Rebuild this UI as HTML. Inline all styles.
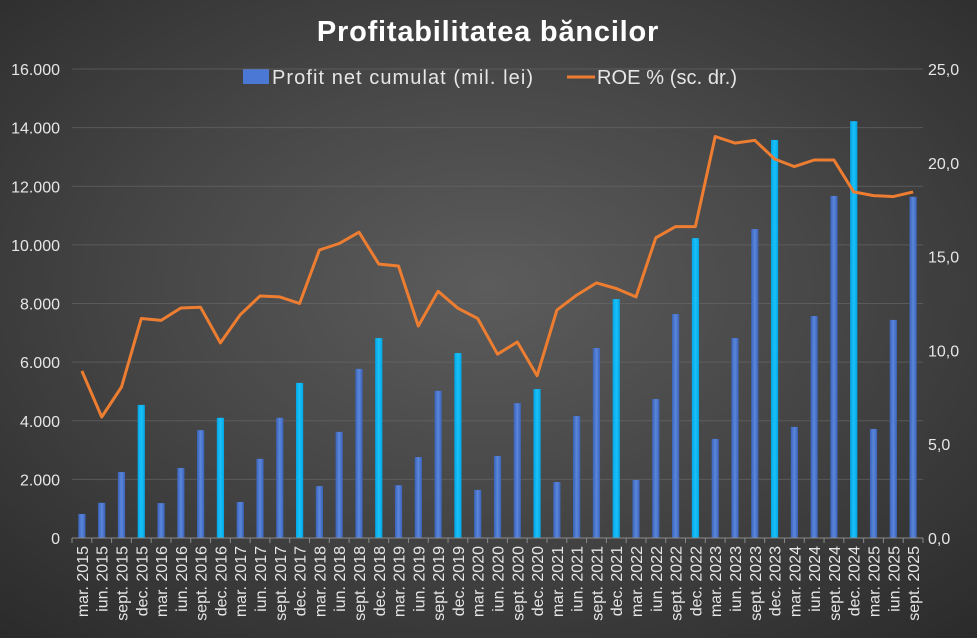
<!DOCTYPE html>
<html><head><meta charset="utf-8"><style>
html,body{margin:0;padding:0;width:977px;height:638px;overflow:hidden}
body{background:radial-gradient(ellipse 75% 75% at 50% 45%,#5c5c5c 0%,#474747 45%,#2a2a2a 100%);font-family:"Liberation Sans",sans-serif}
svg{position:absolute;left:0;top:0}
</style></head><body>
<svg id="c" width="977" height="638" xmlns="http://www.w3.org/2000/svg">
<defs>
<linearGradient id="gb" x1="0" x2="1"><stop offset="0" stop-color="#3a63b8"/><stop offset="0.5" stop-color="#5a86dc"/><stop offset="1" stop-color="#3a63b8"/></linearGradient>
<linearGradient id="gc" x1="0" x2="1"><stop offset="0" stop-color="#00a6e6"/><stop offset="0.5" stop-color="#1cc0f8"/><stop offset="1" stop-color="#00a6e6"/></linearGradient>
</defs>
<text x="488" y="41" text-anchor="middle" font-size="29" font-weight="bold" fill="#fff" letter-spacing="0.8" font-family="Liberation Sans, sans-serif">Profitabilitatea băncilor</text>
<rect x="243" y="69" width="26" height="15" fill="#4a78d4"/>
<text x="272" y="84" font-size="20" fill="#e6e6e6" textLength="261" lengthAdjust="spacing">Profit net cumulat (mil. lei)</text>
<line x1="567" y1="77" x2="595" y2="77" stroke="#ed7d31" stroke-width="3"/>
<text x="597" y="84" font-size="20" fill="#e6e6e6" textLength="140" lengthAdjust="spacing">ROE % (sc. dr.)</text>
</svg>
<script>
var s=document.getElementById('c'),NS='http://www.w3.org/2000/svg';
function el(t,a,txt){var e=document.createElementNS(NS,t);for(var k in a)e.setAttribute(k,a[k]);if(txt!=null)e.textContent=txt;s.appendChild(e);return e;}
var L=72,R=923,T=69,B=538,H=B-T,n=43,cw=(R-L)/n;
for(var i=0;i<=8;i++){var y=B-i*H/8;if(i>0)el('line',{x1:L,x2:R,y1:y,y2:y,stroke:'#6a6a6a','stroke-width':1,'stroke-opacity':0.6});
el('text',{x:60,y:y+6,'text-anchor':'end','font-size':16,fill:'#e6e6e6'},i==0?'0':(i*2)+'.000');}
for(var i=0;i<=5;i++){var y=B-i*H/5;el('text',{x:928,y:y+6,'font-size':16,fill:'#e6e6e6'},(i*5)+',0');}
var bars=[820,1200,2250,4540,1190,2390,3680,4100,1230,2700,4100,5290,1770,3620,5770,6820,1800,2760,5020,6310,1640,2800,4600,5080,1910,4160,6480,8150,1980,4740,7640,10230,3380,6820,10540,13580,3790,7570,11670,14220,3720,7440,11640];
var roe=[8.9,6.45,8.05,11.7,11.6,12.26,12.3,10.4,11.9,12.9,12.85,12.5,15.35,15.7,16.3,14.6,14.5,11.3,13.15,12.25,11.7,9.8,10.45,8.65,12.15,12.95,13.6,13.3,12.85,16.0,16.6,16.6,21.4,21.05,21.2,20.2,19.8,20.15,20.15,18.45,18.25,18.2,18.45];
var q=['mar.','iun.','sept.','dec.'];
var pts=[];
for(var i=0;i<n;i++){var cx=L+cw*(i+0.5),h=bars[i]/16000*H,dec=(i%4==3);
el('rect',{x:cx-3.6,y:B-h,width:7.2,height:h,fill:dec?'url(#gc)':'url(#gb)'});
pts.push(cx.toFixed(1)+','+(B-roe[i]/25*H).toFixed(1));
var yr=2015+Math.floor(i/4);
el('text',{x:0,y:0,'font-size':16,fill:'#e6e6e6','text-anchor':'end',transform:'translate('+(cx+6)+','+(B+8)+') rotate(-90)'},q[i%4]+' '+yr);
el('line',{x1:L+cw*i,x2:L+cw*i,y1:B,y2:B+5,stroke:'#8a8a8a'});}
el('line',{x1:L+cw*n,x2:L+cw*n,y1:B,y2:B+5,stroke:'#8a8a8a'});
el('line',{x1:L,x2:R,y1:B,y2:B,stroke:'#8a8a8a','stroke-width':1});
el('polyline',{points:pts.join(' '),fill:'none',stroke:'#ed7d31','stroke-width':3,'stroke-linejoin':'round'});
</script>
</body></html>
